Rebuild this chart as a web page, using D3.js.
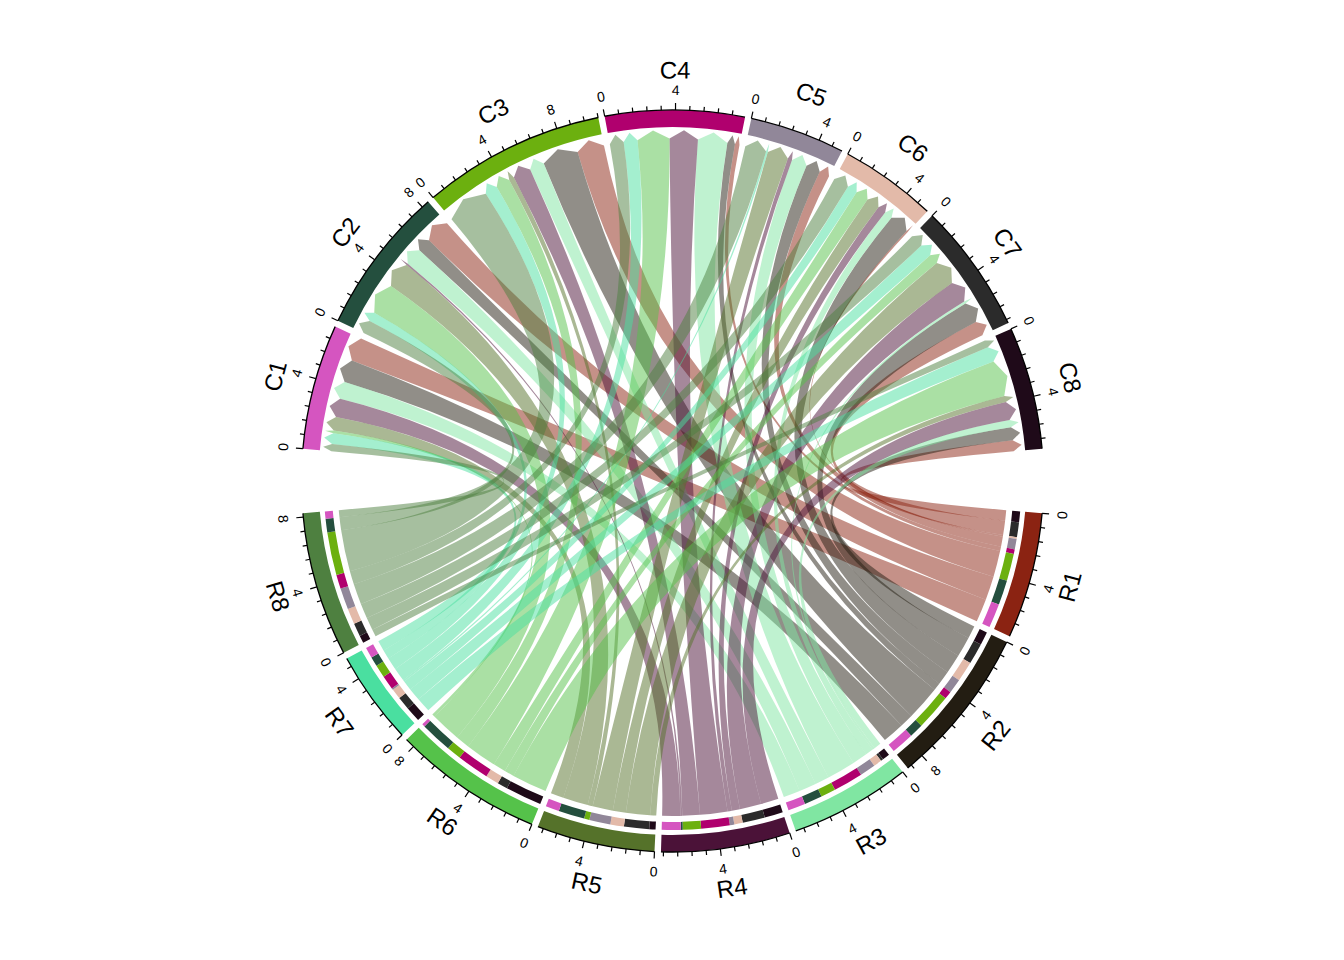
<!DOCTYPE html>
<html>
<head>
<meta charset="utf-8">
<script src="https://cdn.jsdelivr.net/npm/d3@7"></script>
<style>
  body { margin: 0; background: #ffffff; }
  text { font-family: "Liberation Sans", Arial, Helvetica, sans-serif; }
</style>
</head>
<body>
<svg id="chart" width="1344" height="960"></svg>
<script>
// ---------------- data ----------------
const rowNames = ["R1", "R2", "R3", "R4", "R5", "R6", "R7", "R8"];
const colNames = ["C1", "C2", "C3", "C4", "C5", "C6", "C7", "C8"];
const rowColors = ["#8B2312", "#231D12", "#80E6A2", "#4B1238", "#55722A", "#55C24A", "#4ADFA0", "#4E8040"];
const colColors = ["#D555C0", "#244F3E", "#6CB00F", "#B0006E", "#918799", "#E3BAA9", "#2B2B2B", "#1F0A19"];
// values of each row (R) toward columns C1..C8
const R1 = [1.45, 1.50, 1.65, 0.28, 0.63, 0.10, 0.90, 0.66];
const R2 = [1.38, 0.85, 2.18, 0.47, 0.88, 1.22, 1.28, 0.80];
const R3 = [1.05, 1.08, 0.90, 1.80, 0.95, 0.50, 0.15, 0.45];
const R4 = [1.15, 0.11, 1.10, 1.73, 0.27, 0.51, 1.35, 1.12];
const R5 = [0.82, 1.58, 0.32, 0.00, 1.28, 0.82, 1.52, 0.38];
const R6 = [0.18, 1.92, 0.88, 1.95, 0.00, 0.80, 0.62, 2.20];
const R7 = [0.65, 0.58, 0.78, 0.85, 0.11, 0.62, 0.80, 0.92];
const R8 = [0.44, 0.82, 2.60, 0.85, 1.30, 0.95, 0.80, 0.45];
const flows = [R1, R2, R3, R4, R5, R6, R7, R8];
const majorTicks = [0, 4, 8];
const tickStep = 0.8;

// ---------------- layout ----------------
const cx = 672.5, cy = 481;
const bigGap = 10, smallGap = 1;
const rAxis = 371, rBarIn = 354;
const rPropOut = 349, rPropIn = 341;
const rSrc = 335, rTgt = 342.5, rTip = 351;
const rTickLab = 391, rName = 411;

const svg = d3.select("#chart");
const g = svg.append("g");

const rowTotals = flows.map(r => d3.sum(r));
const colTotals = colNames.map((c, j) => d3.sum(flows, r => r[j]));
const total = d3.sum(rowTotals);
const degPerUnit = (360 - 14 * smallGap - 2 * bigGap) / (2 * total);

// sectors: angles in math degrees (ccw from east), drawn clockwise
const sectors = [];
let start = 180 - bigGap / 2;
colNames.forEach((name, j) => {
  const end = start - colTotals[j] * degPerUnit;
  sectors.push({ name, kind: "col", idx: j, total: colTotals[j], start, end, color: colColors[j],
    scale: d3.scaleLinear().domain([0, colTotals[j]]).range([start, end]) });
  start = end - smallGap;
});
start = -bigGap / 2;
rowNames.forEach((name, i) => {
  const end = start - rowTotals[i] * degPerUnit;
  sectors.push({ name, kind: "row", idx: i, total: rowTotals[i], start, end, color: rowColors[i],
    scale: d3.scaleLinear().domain([0, rowTotals[i]]).range([start, end]) });
  start = end - smallGap;
});
const colSec = sectors.filter(s => s.kind === "col");
const rowSec = sectors.filter(s => s.kind === "row");

const rad = d => d * Math.PI / 180;
const pt = (deg, r) => [cx + r * Math.cos(rad(deg)), cy - r * Math.sin(rad(deg))];
const d3ang = deg => rad(90 - deg);   // d3.arc convention

// link positions
const links = [];
const srcOffset = rowNames.map(() => 0);
const tgtOffset = colNames.map(() => 0);
const srcPos = flows.map(() => []);
const tgtPos = colNames.map(() => []);
rowNames.forEach((rn, i) => {
  for (let j = 7; j >= 0; j--) {
    const v = flows[i][j];
    if (v <= 0) continue;
    srcPos[i][j] = [srcOffset[i], srcOffset[i] + v];
    srcOffset[i] += v;
  }
});
colNames.forEach((cn, j) => {
  for (let i = 7; i >= 0; i--) {
    const v = flows[i][j];
    if (v <= 0) continue;
    tgtPos[j][i] = [tgtOffset[j], tgtOffset[j] + v];
    tgtOffset[j] += v;
  }
});
rowNames.forEach((rn, i) => {
  colNames.forEach((cn, j) => {
    if (flows[i][j] > 0) links.push({ i, j, v: flows[i][j] });
  });
});

// ---------------- links ----------------
const linkG = g.append("g");
links.forEach(l => {
  const rs = rowSec[l.i], cs = colSec[l.j];
  const s1 = rs.scale(srcPos[l.i][l.j][0]), s2 = rs.scale(srcPos[l.i][l.j][1]);
  const t1 = cs.scale(tgtPos[l.j][l.i][0]), t2 = cs.scale(tgtPos[l.j][l.i][1]);
  const tm = (t1 + t2) / 2;
  const p = d3.path();
  const a = pt(s1, rSrc);
  p.moveTo(a[0], a[1]);
  p.arc(cx, cy, rSrc, -rad(s1), -rad(s2), false);
  const b = pt(t1, rTgt);
  p.quadraticCurveTo(cx, cy, b[0], b[1]);
  const tip = pt(tm, rTip);
  p.lineTo(tip[0], tip[1]);
  const c = pt(t2, rTgt);
  p.lineTo(c[0], c[1]);
  p.quadraticCurveTo(cx, cy, a[0], a[1]);
  p.closePath();
  linkG.append("path")
    .attr("d", p.toString())
    .attr("fill", rowColors[l.i])
    .attr("fill-opacity", 0.5)
    .attr("stroke", "none");
});

// ---------------- target proportion track on rows ----------------
const arcGen = d3.arc();
const propG = g.append("g");
rowSec.forEach(s => {
  for (let j = 7; j >= 0; j--) {
    const pos = srcPos[s.idx][j];
    if (!pos) continue;
    propG.append("path")
      .attr("transform", `translate(${cx},${cy})`)
      .attr("d", arcGen({ innerRadius: rPropIn, outerRadius: rPropOut,
        startAngle: d3ang(s.scale(pos[0])), endAngle: d3ang(s.scale(pos[1])) }))
      .attr("fill", colColors[j]);
  }
});

// ---------------- grid bars ----------------
const barG = g.append("g");
sectors.forEach(s => {
  barG.append("path")
    .attr("transform", `translate(${cx},${cy})`)
    .attr("d", arcGen({ innerRadius: rBarIn, outerRadius: rAxis,
      startAngle: d3ang(s.start), endAngle: d3ang(s.end) }))
    .attr("fill", s.color);
});

// ---------------- axes ----------------
const axG = g.append("g");
function rotFor(deg) {
  let d = ((deg % 360) + 360) % 360;
  let rot = 90 - d;
  if (d > 180 && d < 360) rot += 180;
  return rot;
}
sectors.forEach(s => {
  const p = d3.path();
  const a = pt(s.start, rAxis);
  p.moveTo(a[0], a[1]);
  p.arc(cx, cy, rAxis, -rad(s.start), -rad(s.end), false);
  axG.append("path").attr("d", p.toString()).attr("fill", "none")
    .attr("stroke", "#000").attr("stroke-width", 1.3);
  const ticks = d3.range(0, s.total + 1e-9, tickStep);
  ticks.forEach((t, k) => {
    const major = k % 5 === 0;
    const deg = s.scale(t);
    const p0 = pt(deg, rAxis), p1 = pt(deg, rAxis + (major ? 7 : 4.5));
    axG.append("line").attr("x1", p0[0]).attr("y1", p0[1]).attr("x2", p1[0]).attr("y2", p1[1])
      .attr("stroke", "#000").attr("stroke-width", 1.2);
  });
  majorTicks.filter(t => t <= s.total + 1e-9).forEach(t => {
    const deg = s.scale(t);
    const q = pt(deg, rTickLab);
    axG.append("text")
      .attr("transform", `translate(${q[0]},${q[1]}) rotate(${rotFor(deg)})`)
      .attr("text-anchor", "middle")
      .attr("dominant-baseline", "central")
      .attr("font-size", 14)
      .attr("fill", "#000")
      .text(t);
  });
  const mid = (s.start + s.end) / 2;
  const q = pt(mid, rName);
  axG.append("text")
    .attr("transform", `translate(${q[0]},${q[1]}) rotate(${rotFor(mid)})`)
    .attr("text-anchor", "middle")
    .attr("dominant-baseline", "central")
    .attr("font-size", 24)
    .attr("fill", "#000")
    .text(s.name);
});
</script>
</body>
</html>
